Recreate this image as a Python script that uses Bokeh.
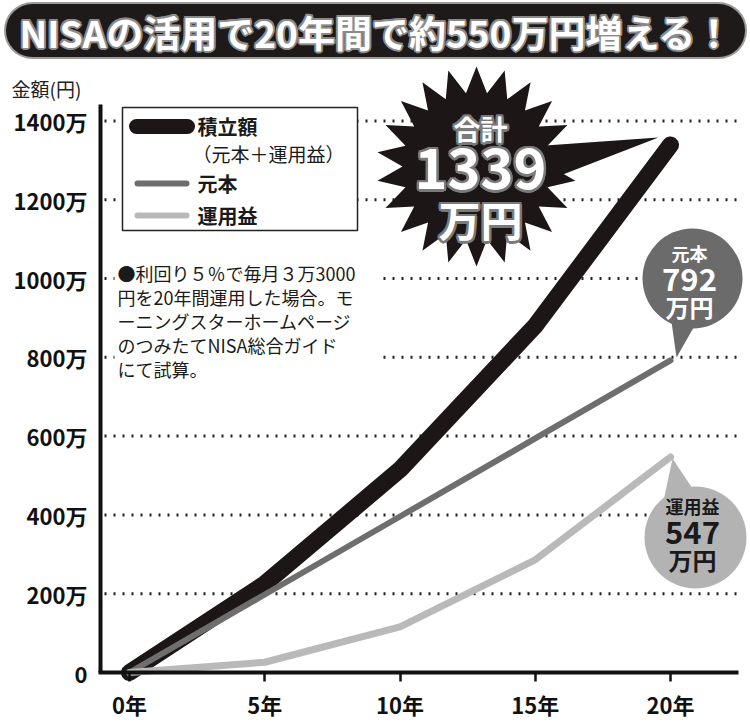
import numpy as np
from bokeh.plotting import figure
from bokeh.models import FixedTicker, Range1d
from bokeh.core.properties import value
from bokeh.embed import file_html
from bokeh.resources import INLINE

# ---------------- data ----------------
years = [0, 5, 10, 15, 20]
total = [0, 225, 515, 880, 1339]        # 積立額（元本＋運用益）
principal = [0, 198, 396, 594, 792]     # 元本
gain = [0, 26, 116, 286, 547]           # 運用益
y_ticks = [0, 200, 400, 600, 800, 1000, 1200, 1400]
y_tick_labels = ["0", "200万", "400万", "600万", "800万", "1000万", "1200万", "1400万"]
x_tick_labels = ["0年", "5年", "10年", "15年", "20年"]
title_text = "NISAの活用で20年間で約550万円増える！"
note_lines = ["●利回り５％で毎月３万3000", "円を20年間運用した場合。モ",
              "ーニングスターホームページ", "のつみたてNISA総合ガイド", "にて試算。"]

FONT = value("Noto Sans CJK JP")
W, H = 750, 722
X0PX, XS = 129.0, 27.05     # pixel of year 0, px per year
Y0PX, YS = 672.0, 0.394     # pixel of 0万, px per 万


def X(px):
    return (px - X0PX) / XS


def Y(py):
    return (Y0PX - py) / YS


p = figure(width=W, height=H, output_backend="svg", toolbar_location=None,
           x_range=Range1d(X(0), X(W)), y_range=Range1d(Y(H), Y(0)),
           min_border=0, outline_line_color=None,
           background_fill_color="white", border_fill_color="white")
p.xgrid.visible = False
p.ygrid.visible = False

# ---------------- axes ----------------
xa = p.xaxis[0]
xa.fixed_location = 0
xa.bounds = (X(98), X(738))
xa.ticker = FixedTicker(ticks=years)
xa.major_label_overrides = {t: l for t, l in zip(years, x_tick_labels)}
xa.axis_line_width = 4
xa.axis_line_color = "#111111"
xa.major_tick_in = 0
xa.major_tick_out = 9
xa.major_tick_line_width = 2.5
xa.major_tick_line_color = "#111111"
xa.minor_tick_line_color = None
xa.major_label_text_font = "Noto Sans CJK JP"
xa.major_label_text_font_style = "bold"
xa.major_label_text_font_size = "22px"
xa.major_label_text_color = "#111111"
xa.major_label_standoff = 6

ya = p.yaxis[0]
ya.fixed_location = X(100)
ya.bounds = (0, Y(104))
ya.ticker = FixedTicker(ticks=y_ticks)
ya.major_label_overrides = {t: l for t, l in zip(y_ticks, y_tick_labels)}
ya.axis_line_width = 4
ya.axis_line_color = "#111111"
ya.major_tick_line_color = None
ya.minor_tick_line_color = None
ya.major_label_text_font = "Noto Sans CJK JP"
ya.major_label_text_font_style = "bold"
ya.major_label_text_font_size = "22px"
ya.major_label_text_color = "#111111"
ya.major_label_standoff = 7

# dotted grid lines
gt = y_ticks[1:]
p.segment(x0=[X(104)] * len(gt), y0=gt, x1=[X(740)] * len(gt), y1=gt,
          line_color="#222222", line_width=3, line_dash="2 7")

# axis title
p.text(x=[X(11)], y=[Y(88)], text=["金額(円)"], text_font=FONT, text_font_size="19px",
       text_color="#222222", text_align="left", text_baseline="middle")

# ---------------- title banner ----------------
p.line([X(32), X(718)], [Y(30), Y(30)], line_width=57, line_color="#9a9a9a", line_cap="round")
p.line([X(32), X(718)], [Y(30), Y(30)], line_width=53, line_color="#1e1a1a", line_cap="round")
for dx, dy in [(-2, 0), (2, 0), (0, -2), (0, 2), (-1.5, -1.5), (1.5, 1.5), (-1.5, 1.5), (1.5, -1.5)]:
    p.text(x=[X(376)], y=[Y(31)], text=[title_text], text_font=FONT, text_font_style="bold",
           text_font_size="37px", text_color="#8a8a8a", text_align="center",
           text_baseline="middle", x_offset=dx, y_offset=dy)
p.text(x=[X(376)], y=[Y(31)], text=[title_text], text_font=FONT, text_font_style="bold",
       text_font_size="37px", text_color="white", text_align="center", text_baseline="middle")

# ---------------- legend box ----------------
p.quad(left=X(122), right=X(357), top=Y(107), bottom=Y(230), fill_color="white",
       line_color="#222222", line_width=1.5)
p.line([X(136), X(187)], [Y(126), Y(126)], line_width=15, line_color="#1c1716", line_cap="round")
p.line([X(137), X(186)], [Y(183), Y(183)], line_width=6, line_color="#6e6e6e", line_cap="round")
p.line([X(137), X(186)], [Y(215), Y(215)], line_width=6, line_color="#b9b9b9", line_cap="round")
p.text(x=[X(197)] * 3, y=[Y(126), Y(183), Y(215)], text=["積立額", "元本", "運用益"],
       text_font=FONT, text_font_style="bold", text_font_size="20px", text_color="#1a1a1a",
       text_align="left", text_baseline="middle")
p.text(x=[X(192)], y=[Y(153)], text=["（元本＋運用益）"], text_font=FONT,
       text_font_size="19px", text_color="#1a1a1a", text_align="left", text_baseline="middle")

# ---------------- note ----------------
p.quad(left=X(114), right=X(380), top=Y(257), bottom=Y(382), fill_color="white", line_color=None)
p.text(x=[X(117)] * len(note_lines), y=[Y(272 + 24 * i) for i in range(len(note_lines))],
       text=note_lines, text_font=FONT, text_font_size="18px", text_color="#1a1a1a",
       text_align="left", text_baseline="middle")

# ---------------- data lines ----------------
p.line(years, total, line_width=17, line_color="#1c1716", line_cap="round", line_join="round")
p.line(years, principal, line_width=6, line_color="#6e6e6e", line_cap="round", line_join="round")
p.line(years, gain, line_width=7, line_color="#b9b9b9", line_cap="round", line_join="round")

# ---------------- starburst ----------------
cx, cy, n, ro, ri = 476, 166, 22, 100, 74
ang = np.linspace(0, 2 * np.pi, 2 * n, endpoint=False) - np.pi / 2
rad = np.where(np.arange(2 * n) % 2 == 0, ro, ri)
p.patch([X(v) for v in cx + rad * np.cos(ang)], [Y(v) for v in cy + rad * np.sin(ang)],
        fill_color="#1c1716", line_color=None)
p.patch([X(545), X(552), X(658)], [Y(145), Y(178), Y(137)], fill_color="#1c1716", line_color=None)
for txt, yy, fs in [("合計", 128, "27px"), ("1339", 168, "56px"), ("万円", 218, "42px")]:
    for dx, dy in [(-2.5, 0), (2.5, 0), (0, -2.5), (0, 2.5), (-2, -2), (2, 2), (-2, 2), (2, -2)]:
        p.text(x=[X(480)], y=[Y(yy)], text=[txt], text_font=FONT, text_font_style="bold",
               text_font_size=fs, text_color="#7a7a7a", text_align="center",
               text_baseline="middle", x_offset=dx, y_offset=dy)
    p.text(x=[X(480)], y=[Y(yy)], text=[txt], text_font=FONT, text_font_style="bold",
           text_font_size=fs, text_color="white", text_align="center", text_baseline="middle")

# ---------------- 元本 bubble ----------------
p.patch([X(668), X(676), X(700)], [Y(300), Y(357), Y(315)], fill_color="#6b6b6b", line_color=None)
p.scatter([X(692)], [Y(278)], size=100, marker="circle", fill_color="#6b6b6b", line_color=None)
for txt, yy, fs in [("元本", 252, "18px"), ("792", 279, "31px"), ("万円", 306, "24px")]:
    p.text(x=[X(689)], y=[Y(yy)], text=[txt], text_font=FONT, text_font_style="bold",
           text_font_size=fs, text_color="white", text_align="center", text_baseline="middle")

# ---------------- 運用益 bubble ----------------
p.patch([X(660), X(672), X(700)], [Y(515), Y(458), Y(500)], fill_color="#b3b3b3", line_color=None)
p.scatter([X(695)], [Y(537)], size=102, marker="circle", fill_color="#b3b3b3", line_color=None)
for txt, yy, fs in [("運用益", 505, "18px"), ("547", 532, "31px"), ("万円", 559, "24px")]:
    p.text(x=[X(692)], y=[Y(yy)], text=[txt], text_font=FONT, text_font_style="bold",
           text_font_size=fs, text_color="#1a1a1a", text_align="center", text_baseline="middle")

open("out.html", "w").write(file_html(p, INLINE))
